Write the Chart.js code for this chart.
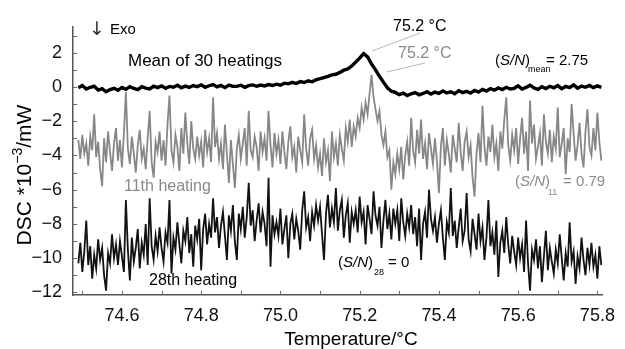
<!DOCTYPE html>
<html lang="en">
<head>
<meta charset="UTF-8">
<title>DSC heatings</title>
<style>
  html, body { margin: 0; padding: 0; background: #fff; }
  #wrap { width: 625px; height: 349px; }
</style>
</head>
<body>
<div id="wrap"><canvas id="dsc-chart" width="625" height="349"></canvas></div>
<script src="https://cdn.jsdelivr.net/npm/chart.js"></script>
<script>
// temperature grid: start and step of each recorded run
const tStart = 74.49;
const meanStep = 0.01;
const runStep = 0.005;

// mean of 30 heatings (10^-3 mW)
const meanValues = [
  -0.05,0.08,-0.12,-0.02,0.04,-0.18,-0.10,-0.28,-0.15,-0.08,
  -0.20,-0.03,-0.14,0.02,-0.09,-0.16,0.01,-0.07,-0.12,0.04,
  -0.04,0.06,-0.08,0.03,-0.02,0.10,-0.05,0.05,-0.03,0.08,
  0.02,0.12,-0.02,0.07,0.14,0.00,0.09,-0.04,0.11,0.03,
  0.03,0.10,-0.02,0.08,0.12,0.04,0.11,0.06,0.14,0.09,
  0.16,0.10,0.22,0.18,0.27,0.20,0.31,0.26,0.36,0.30,
  0.42,0.48,0.55,0.62,0.70,0.74,0.85,0.98,1.05,1.22,
  1.45,1.68,1.95,1.75,1.35,1.00,0.62,0.28,-0.05,-0.25,
  -0.32,-0.45,-0.36,-0.50,-0.40,-0.33,-0.46,-0.38,-0.28,-0.42,
  -0.30,-0.38,-0.24,-0.35,-0.28,-0.40,-0.22,-0.33,-0.26,-0.36,
  -0.20,-0.30,-0.14,-0.24,-0.10,-0.19,-0.06,-0.15,-0.02,-0.12,
  -0.08,0.06,-0.12,-0.03,0.10,-0.06,-0.14,0.02,-0.09,0.04,
  -0.05,0.08,-0.10,0.03,-0.04,0.12,-0.07,0.05,-0.02,0.09,
  -0.04,0.06,-0.03
];

// 11th heating
const heat11Values = [
  -3.1,-4.2,-2.8,-3.9,-3.3,-4.6,-2.9,-3.7,-1.6,-4.1,-3.2,-4.8,-5.8,-3.0,-4.4,-2.6,-3.8,-4.9,-3.3,-2.4,
  -4.3,-3.1,-4.7,-2.7,-0.3,-3.6,-4.5,-2.9,-3.9,-5.0,-3.4,-2.5,-4.2,-3.6,-4.8,-3.0,-1.4,-4.4,-5.3,-3.2,
  -3.8,-2.6,-4.3,-3.1,-4.6,-2.2,-0.5,-3.7,-4.4,-2.8,-3.5,-4.9,-2.4,-3.9,-1.5,-3.3,-4.5,-2.0,-3.6,-4.2,
  -2.9,-4.0,-3.2,-4.7,-2.5,-3.8,-3.0,-4.4,-0.6,-3.5,-2.7,-4.2,-3.3,-4.8,-2.2,-3.9,-5.6,-3.1,-4.5,-5.9,
  -3.6,-2.8,-4.2,-3.3,-2.4,-4.6,-1.4,-3.7,-4.1,-2.9,-3.5,-4.9,-2.6,-3.8,-3.0,-4.3,-1.4,-3.4,-4.7,-2.7,
  -3.9,-3.1,-4.5,-2.6,-3.8,-4.8,-3.2,-2.3,-4.1,-3.5,-5.0,-2.9,-3.7,-4.4,-1.6,-3.6,-4.6,-3.0,-2.5,-4.2,
  -3.4,-4.7,-3.9,-5.2,-3.0,-4.4,-3.7,-5.5,-2.6,-4.1,-3.3,-4.6,-2.8,-3.6,-4.3,-2.4,-3.2,-1.9,-3.5,-2.3,
  -2.9,-1.8,-2.4,-1.2,-1.9,-0.9,-1.6,-0.4,0.7,-0.6,-1.3,-2.0,-1.4,-2.8,-3.4,-2.6,-4.1,-3.7,-6.0,-4.4,
  -5.1,-3.9,-4.8,-3.5,-5.4,-4.0,-3.2,-4.6,-1.8,-3.7,-4.4,-2.5,-3.9,-1.9,-4.2,-3.3,-4.8,-2.7,-3.6,-4.5,
  -3.0,-4.3,-6.2,-3.5,-2.4,-4.6,-3.1,-3.9,-5.0,-2.8,-3.6,-4.4,-2.1,-3.8,-4.9,-3.2,-2.6,-4.1,-3.4,-5.3,
  -6.4,-3.9,-2.7,-4.4,-1.1,-3.5,-4.6,-2.9,-3.8,-2.2,-4.1,-3.3,-4.9,-2.6,-3.6,-1.9,-0.6,-3.4,-4.3,-2.8,
  -3.7,-2.4,-4.5,-3.0,-1.8,-3.9,-2.6,-4.9,-0.8,-3.3,-2.2,-4.2,-3.5,-2.7,-4.6,-1.6,-3.2,-3.9,-2.5,-4.4,
  -2.9,-3.6,-1.2,-4.1,-3.3,-2.4,-5.1,-3.0,-3.8,-1.0,-2.7,-4.3,-3.4,-2.1,-3.9,-4.7,-2.6,-1.3,-3.5,-4.0,
  -2.4,-3.7,-1.5,-3.2,-4.3
];

// 28th heating
const heat28Values = [
  -10.3,-9.1,-10.8,-9.6,-7.8,-10.4,-9.3,-11.2,-9.8,-10.6,-8.9,-10.1,-9.4,-11.0,-11.9,-9.7,-10.3,-8.6,-10.0,-9.2,
  -10.4,-9.0,-9.9,-10.8,-6.6,-9.5,-11.3,-8.8,-10.2,-9.4,-8.3,-10.6,-9.1,-9.8,-8.0,-10.4,-6.5,-9.3,-10.1,-8.7,
  -9.6,-8.2,-9.4,-10.2,-8.5,-9.1,-6.6,-10.9,-8.8,-9.5,-7.9,-9.2,-10.3,-8.4,-9.0,-7.6,-9.7,-8.6,-10.5,-8.1,
  -8.9,-7.7,-10.7,-8.3,-7.4,-9.2,-8.0,-8.8,-6.5,-8.5,-7.6,-9.4,-8.1,-7.3,-8.7,-10.1,-7.5,-8.4,-6.9,-9.0,
  -10.1,-7.4,-8.3,-7.0,-8.8,-7.6,-5.6,-8.1,-7.2,-9.0,-7.8,-6.8,-8.5,-7.3,-8.0,-9.3,-5.3,-10.5,-7.5,-8.6,
  -7.9,-8.7,-7.1,-9.2,-8.3,-7.5,-10.0,-8.0,-7.4,-8.9,-7.7,-8.4,-9.5,-7.2,-6.1,-8.2,-7.6,-9.0,-7.3,-8.1,
  -6.9,-7.8,-7.0,-8.6,-10.1,-7.4,-6.3,-8.2,-7.1,-7.9,-5.9,-8.4,-7.2,-6.6,-8.8,-7.5,-6.8,-9.1,-7.3,-8.0,
  -7.2,-8.5,-6.4,-7.9,-7.3,-9.2,-6.9,-7.7,-8.6,-6.1,-7.5,-8.1,-7.0,-9.4,-7.8,-6.6,-8.3,-7.4,-8.9,-7.1,
  -8.0,-7.2,-9.0,-6.5,-7.9,-8.7,-7.4,-8.2,-6.9,-8.6,-7.6,-9.3,-7.1,-10.1,-8.0,-7.3,-8.8,-6.0,-7.7,-8.4,
  -7.6,-9.1,-8.0,-7.2,-8.8,-10.1,-7.9,-8.5,-5.9,-8.7,-7.8,-9.4,-8.2,-7.1,-9.0,-8.4,-6.2,-8.9,-9.6,-7.7,
  -8.6,-9.5,-7.4,-9.0,-8.2,-10.1,-8.8,-6.6,-9.3,-8.5,-9.8,-7.8,-11.1,-9.1,-8.4,-9.7,-7.6,-9.2,-10.3,-8.7,
  -9.6,-10.4,-8.8,-10.0,-9.2,-10.8,-7.8,-10.3,-11.9,-9.5,-10.1,-8.9,-10.6,-9.3,-11.4,-9.9,-8.4,-10.7,-9.4,-10.2,
  -10.9,-9.5,-10.3,-8.6,-10.0,-11.3,-9.7,-10.5,-7.9,-10.2,-9.6,-11.5,-9.9,-10.6,-8.8,-10.1,-11.0,-9.4,-10.4,-9.1,
  -10.5,-9.8,-11.2,-9.3,-10.4
];

const xTicks = [74.5,74.6,74.7,74.8,74.9,75.0,75.1,75.2,75.3,75.4,75.5,75.6,75.7,75.8];
const yTicks = [-12,-11,-10,-9,-8,-7,-6,-5,-4,-3,-2,-1,0,1,2,3];

const FONT = '"Liberation Sans", Arial, Helvetica, sans-serif';
const GREY = '#8a8a8a';

function toPoints(values, step) {
  return values.map((v, i) => ({ x: +(tStart + i * step).toFixed(3), y: v }));
}

function fmtMinus(v) {
  return v < 0 ? '\u2212' + Math.abs(v) : String(v);
}

// (S/N) label with subscript
function drawSN(ctx, x, y, sub, subX, subY, rest, restX, color) {
  ctx.fillStyle = color;
  ctx.textAlign = 'left';
  ctx.textBaseline = 'alphabetic';
  let cx = x;
  ctx.font = '15px ' + FONT;
  ctx.fillText('(', cx, y);
  cx += ctx.measureText('(').width;
  ctx.font = 'italic 15px ' + FONT;
  ctx.fillText('S/N', cx, y);
  cx += ctx.measureText('S/N').width;
  ctx.font = '15px ' + FONT;
  ctx.fillText(')', cx, y);
  ctx.font = '9px ' + FONT;
  ctx.fillText(sub, subX, subY);
  ctx.font = '15px ' + FONT;
  ctx.fillText(rest, restX, y);
}

const decorations = {
  id: 'decorations',
  afterDraw(chart) {
    const ctx = chart.ctx;
    const xs = chart.scales.x, ys = chart.scales.y;
    ctx.save();

    // inward tick marks
    ctx.strokeStyle = '#666';
    ctx.lineWidth = 1;
    ctx.beginPath();
    xTicks.forEach(v => {
      const px = Math.round(xs.getPixelForValue(v)) + 0.5;
      ctx.moveTo(px, ys.bottom);
      ctx.lineTo(px, ys.bottom - 4);
    });
    yTicks.forEach(v => {
      const py = Math.round(ys.getPixelForValue(v)) + 0.5;
      ctx.moveTo(xs.left, py);
      ctx.lineTo(xs.left + 4, py);
    });
    ctx.stroke();

    // pointer lines to the peaks
    ctx.strokeStyle = '#b5b5b5';
    ctx.lineWidth = 1;
    ctx.beginPath();
    ctx.moveTo(372, 51); ctx.lineTo(420, 33);
    ctx.moveTo(387, 72); ctx.lineTo(425, 63);
    ctx.stroke();

    ctx.textAlign = 'left';
    ctx.textBaseline = 'alphabetic';

    ctx.fillStyle = '#333';
    ctx.font = '19px "DejaVu Sans", sans-serif';
    ctx.fillText('\u2193', 89, 35);
    ctx.fillStyle = '#000';
    ctx.font = '15px ' + FONT;
    ctx.fillText('Exo', 110, 34);

    ctx.font = '17px ' + FONT;
    ctx.fillText('Mean of 30 heatings', 128, 66);
    ctx.font = '16px ' + FONT;
    ctx.fillText('75.2 \u00b0C', 393, 31);
    ctx.fillText('28th heating', 149, 285);
    ctx.fillStyle = GREY;
    ctx.fillText('75.2 \u00b0C', 398, 58);
    ctx.fillText('11th heating', 124, 191);

    drawSN(ctx, 495, 65, 'mean', 528, 72, '= 2.75', 546, '#000');
    drawSN(ctx, 515, 186, '11', 548, 195, '= 0.79', 563, GREY);
    drawSN(ctx, 338, 267, '28', 374, 275, '= 0', 388, '#000');

    // axis titles
    ctx.fillStyle = '#000';
    ctx.font = '19px ' + FONT;
    ctx.textAlign = 'center';
    ctx.fillText('Temperature/\u00b0C', 351, 345);

    ctx.translate(31, 175);
    ctx.rotate(-Math.PI / 2);
    const partA = 'DSC *10', partB = '\u22123', partC = '/mW';
    ctx.font = '21px ' + FONT;
    const wA = ctx.measureText(partA).width, wC = ctx.measureText(partC).width;
    ctx.font = '14px ' + FONT;
    const wB = ctx.measureText(partB).width;
    let cx = -(wA + wB + wC) / 2;
    ctx.textAlign = 'left';
    ctx.font = '21px ' + FONT;
    ctx.fillText(partA, cx, 0);
    cx += wA;
    ctx.font = '14px ' + FONT;
    ctx.fillText(partB, cx, -9);
    cx += wB;
    ctx.font = '21px ' + FONT;
    ctx.fillText(partC, cx, 0);
    ctx.restore();
  }
};

Chart.defaults.font.family = FONT;
Chart.defaults.color = '#000';

new Chart(document.getElementById('dsc-chart'), {
  type: 'line',
  data: {
    datasets: [
      {
        label: 'Mean of 30 heatings',
        data: toPoints(meanValues, meanStep),
        borderColor: '#000',
        borderWidth: 3.4,
        pointRadius: 0,
        order: 0
      },
      {
        label: '28th heating',
        data: toPoints(heat28Values, runStep),
        borderColor: '#121212',
        borderWidth: 1.8,
        pointRadius: 0,
        order: 1
      },
      {
        label: '11th heating',
        data: toPoints(heat11Values, runStep),
        borderColor: '#878787',
        borderWidth: 1.8,
        pointRadius: 0,
        order: 2
      }
    ]
  },
  options: {
    responsive: false,
    animation: false,
    devicePixelRatio: 1,
    layout: { padding: { top: 27, right: 11, left: 0, bottom: 0 } },
    plugins: {
      legend: { display: false },
      tooltip: { enabled: false }
    },
    scales: {
      x: {
        type: 'linear',
        min: 74.4765,
        max: 75.812,
        afterFit(scale) { scale.height = 54; },
        afterBuildTicks(scale) { scale.ticks = xTicks.map(v => ({ value: v })); },
        grid: { display: false, drawTicks: false },
        border: { display: true, color: '#555', width: 1.5 },
        ticks: {
          autoSkip: false,
          maxRotation: 0,
          padding: 10,
          font: { size: 18 },
          color: '#111',
          callback: v => (Math.round(v * 10) % 2 === 0 ? v.toFixed(1) : '')
        }
      },
      y: {
        min: -12.15,
        max: 3.5,
        afterFit(scale) { scale.width = 73; },
        afterBuildTicks(scale) { scale.ticks = yTicks.map(v => ({ value: v })); },
        grid: { display: false, drawTicks: false },
        border: { display: true, color: '#555', width: 1.5 },
        ticks: {
          autoSkip: false,
          padding: 11,
          font: { size: 18 },
          color: '#111',
          callback: v => (v % 2 === 0 && v <= 2 ? fmtMinus(v) : '')
        }
      }
    }
  },
  plugins: [decorations]
});
</script>
</body>
</html>
